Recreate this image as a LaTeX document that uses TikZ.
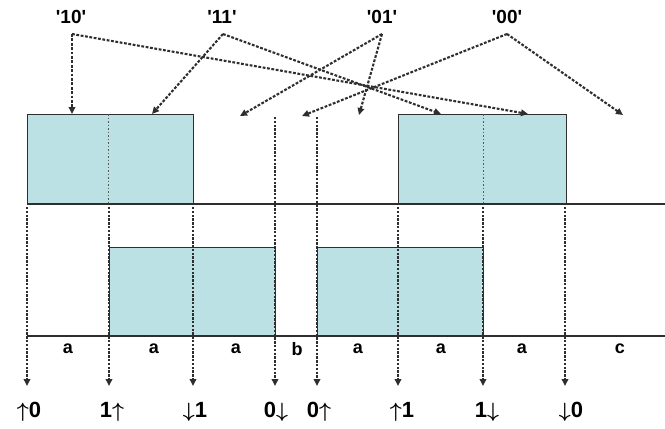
\documentclass[tikz,border=0pt]{standalone}
\usepackage{fontspec}
\setmainfont{Liberation Sans}
\usetikzlibrary{arrows.meta}
\definecolor{boxfill}{HTML}{BCE1E4}
\definecolor{ln}{HTML}{2E2E2E}
\newcommand{\upar}{{\boldmath$\uparrow$}}
\newcommand{\dnar}{{\boldmath$\downarrow$}}
\tikzset{
  dasharrow/.style={ln, line width=2.1pt, dash pattern=on 2.8pt off 1.6pt, -{Triangle[length=7pt,width=6.5pt]}},
  vline/.style={ln, line width=2.1pt, dash pattern=on 2.4pt off 1.4pt, -{Triangle[length=7pt,width=6.5pt]}},
  divider/.style={ln!80, line width=0.9pt, dash pattern=on 1.5pt off 2pt},
  sigbox/.style={fill=boxfill, draw=ln, line width=0.9pt},
  baseline/.style={ln, line width=1.8pt},
  toplab/.style={font=\bfseries\fontsize{19}{19}\selectfont, inner sep=0pt},
  seglab/.style={font=\bfseries\fontsize{18}{18}\selectfont, inner sep=0pt},
  botlab/.style={font=\bfseries\fontsize{22}{22}\selectfont, inner sep=0pt}
}
\begin{document}
\begin{tikzpicture}[x=1pt,y=-1pt]
\useasboundingbox (0,0) rectangle (665,429);
% signal boxes
\draw[sigbox] (27,114) rectangle (193,204);
\draw[sigbox] (398,114) rectangle (566,204);
\draw[sigbox] (109,247) rectangle (275,336);
\draw[sigbox] (317,247) rectangle (483,336);
% dividers inside boxes
\draw[divider] (108,114) -- (108,204);
\draw[divider] (483,114) -- (483,204);
% time lines
\draw[baseline] (27,204) -- (665,204);
\draw[baseline] (27,336) -- (665,336);
% vertical markers
\coordinate (v1s) at (27,207);  \coordinate (v1e) at (27,386);
\coordinate (v2s) at (109,207); \coordinate (v2e) at (109,386);
\coordinate (v3s) at (193,207); \coordinate (v3e) at (193,386);
\coordinate (v4s) at (275,117); \coordinate (v4e) at (275,386);
\coordinate (v5s) at (317,117); \coordinate (v5e) at (317,386);
\coordinate (v6s) at (398,207); \coordinate (v6e) at (398,386);
\coordinate (v7s) at (483,207); \coordinate (v7e) at (483,386);
\coordinate (v8s) at (565,207); \coordinate (v8e) at (565,386);
\foreach \i in {1,...,8} { \draw[vline] (v\i s) -- (v\i e); }
% redraw solid box edges over the markers
\draw[ln, line width=0.9pt] (109,247) -- (109,336);
\draw[ln, line width=0.9pt] (275,247) -- (275,336);
\draw[ln, line width=0.9pt] (317,247) -- (317,336);
\draw[ln, line width=0.9pt] (483,247) -- (483,336);
% top labels
\node[toplab] (l10) at (71,17) {\textquotesingle10\textquotesingle};
\node[toplab] (l11) at (222,17) {\textquotesingle11\textquotesingle};
\node[toplab] (l01) at (382,17) {\textquotesingle01\textquotesingle};
\node[toplab] (l00) at (507,17) {\textquotesingle00\textquotesingle};
\coordinate (o10) at (72,34);
\coordinate (o11) at (223,34);
\coordinate (o01) at (382,34);
\coordinate (o00) at (507,34);
\coordinate (e10a) at (72,114);
\coordinate (e10b) at (528,114);
\coordinate (e11a) at (152,114);
\coordinate (e11b) at (441,114);
\coordinate (e01a) at (240,116);
\coordinate (e01b) at (359,115);
\coordinate (e00a) at (302,116);
\coordinate (e00b) at (623,115);
\draw[dasharrow] (o10) -- (e10a);
\draw[dasharrow] (o10) -- (e10b);
\draw[dasharrow] (o11) -- (e11a);
\draw[dasharrow] (o11) -- (e11b);
\draw[dasharrow] (o01) -- (e01a);
\draw[dasharrow] (o01) -- (e01b);
\draw[dasharrow] (o00) -- (e00a);
\draw[dasharrow] (o00) -- (e00b);
% segment labels
\node[seglab] (s1) at (68,349) {a};
\node[seglab] (s2) at (154,349) {a};
\node[seglab] (s3) at (236,349) {a};
\node[seglab] (s4) at (297,349) {b};
\node[seglab] (s5) at (358,349) {a};
\node[seglab] (s6) at (441,349) {a};
\node[seglab] (s7) at (522,349) {a};
\node[seglab] (s8) at (620,349) {c};
% bottom labels
\node[botlab] (b1) at (29,412) {\upar0};
\node[botlab] (b2) at (112,412) {1\upar};
\node[botlab] (b3) at (195,412) {\dnar1};
\node[botlab] (b4) at (276,412) {0\dnar};
\node[botlab] (b5) at (319,412) {0\upar};
\node[botlab] (b6) at (402,412) {\upar1};
\node[botlab] (b7) at (487,412) {1\dnar};
\node[botlab] (b8) at (571,412) {\dnar0};
\end{tikzpicture}
\end{document}
